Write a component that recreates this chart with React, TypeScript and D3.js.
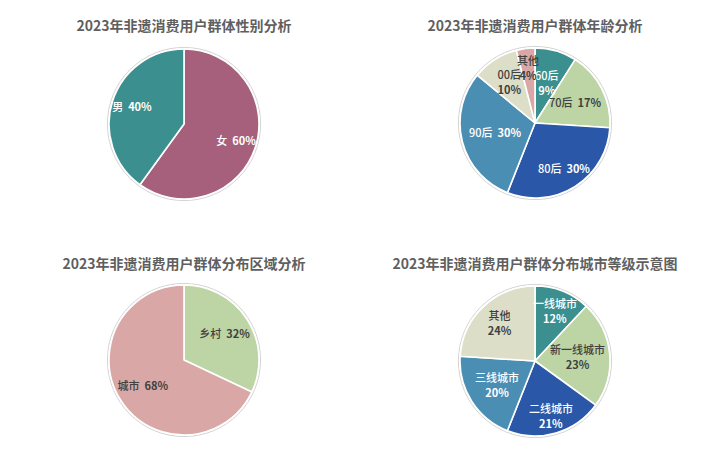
import React from "react";
import * as d3 from "d3";

const W = 720;
const H = 453;

// Chart 1: gender
const genderLabels = ["女", "男"];
const genderValues = [60, 40];
const genderColors = ["#A6607B", "#3B8F8E"];
const genderText = ["#ffffff", "#ffffff"];
const genderLabelR = [0.73, 0.73];
const genderTwoLine = [false, false];

// Chart 2: age
const ageLabels = ["60后", "70后", "80后", "90后", "00后", "其他"];
const ageValues = [9, 17, 30, 30, 10, 4];
const ageColors = ["#3B8F8E", "#BDD4A5", "#2A57A7", "#4B8EB3", "#DDDEC8", "#D8A7A6"];
const ageText = ["#ffffff", "#404040", "#ffffff", "#ffffff", "#404040", "#404040"];
const ageLabelR = [0.56, 0.6, 0.72, 0.55, 0.64, 0.74];
const ageTwoLine = [true, false, false, false, true, true];

// Chart 3: region
const regionLabels = ["乡村", "城市"];
const regionValues = [32, 68];
const regionColors = ["#BDD4A5", "#D8A7A6"];
const regionText = ["#404040", "#404040"];
const regionLabelR = [0.64, 0.65];
const regionTwoLine = [false, false];

// Chart 4: city tier
const tierLabels = ["一线城市", "新一线城市", "二线城市", "三线城市", "其他"];
const tierValues = [12, 23, 21, 20, 24];
const tierColors = ["#3B8F8E", "#BDD4A5", "#2A57A7", "#4B8EB3", "#DDDEC8"];
const tierText = ["#ffffff", "#404040", "#ffffff", "#ffffff", "#404040"];
const tierLabelR = [0.72, 0.57, 0.76, 0.6, 0.69];
const tierTwoLine = [true, true, true, true, true];

const titles = [
  "2023年非遗消费用户群体性别分析",
  "2023年非遗消费用户群体年龄分析",
  "2023年非遗消费用户群体分布区域分析",
  "2023年非遗消费用户群体分布城市等级示意图",
];

const FONT = "'Noto Sans CJK SC', 'Noto Sans', sans-serif";

type PieProps = {
  cx: number;
  cy: number;
  r: number;
  title: string;
  titleY: number;
  labels: string[];
  values: number[];
  colors: string[];
  textColors: string[];
  labelR: number[];
  twoLine: boolean[];
};

function Pie({ cx, cy, r, title, titleY, labels, values, colors, textColors, labelR, twoLine }: PieProps) {
  const total = d3.sum(values);
  const pie = d3.pie<number>().sort(null).value((d) => d);
  const arcs = pie(values);
  const arc = d3.arc<d3.PieArcDatum<number>>().innerRadius(0).outerRadius(r);
  return (
    <g>
      <text
        x={cx}
        y={titleY}
        textAnchor="middle"
        fontFamily={FONT}
        fontSize={14}
        fontWeight="bold"
        fill="#5f5f5f"
      >
        {title}
      </text>
      <circle cx={cx} cy={cy} r={r + 1.6} fill="none" stroke="#d4d4d4" strokeWidth={1} />
      <g transform={`translate(${cx},${cy})`}>
        {arcs.map((a, i) => (
          <path key={i} d={arc(a) || ""} fill={colors[i]} stroke="#ffffff" strokeWidth={1.6} strokeLinejoin="round" />
        ))}
        {arcs.map((a, i) => {
          const mid = (a.startAngle + a.endAngle) / 2;
          const lr = r * labelR[i];
          const x = Math.sin(mid) * lr;
          const y = -Math.cos(mid) * lr;
          const pct = `${Math.round((values[i] / total) * 100)}%`;
          const common = {
            textAnchor: "middle" as const,
            fontFamily: FONT,
            fontSize: 11,
            fontWeight: 500,
            fill: textColors[i],
          };
          if (twoLine[i]) {
            return (
              <text key={`l${i}`} x={x} y={y} {...common}>
                <tspan x={x} dy={-3}>{labels[i]}</tspan>
                <tspan x={x} dy={15} fontWeight="bold">{pct}</tspan>
              </text>
            );
          }
          return (
            <text key={`l${i}`} x={x} y={y + 4} {...common} style={{ whiteSpace: "pre" }}>
              <tspan>{`${labels[i]}  `}</tspan>
              <tspan fontWeight="bold">{pct}</tspan>
            </text>
          );
        })}
      </g>
    </g>
  );
}

export default function App() {
  return (
    <svg width={W} height={H} style={{ position: "absolute", left: 0, top: 0, background: "#ffffff" }}>
      <rect x={0} y={0} width={W} height={H} fill="#ffffff" />
      <Pie cx={184} cy={124} r={75} title={titles[0]} titleY={31} labels={genderLabels} values={genderValues}
        colors={genderColors} textColors={genderText} labelR={genderLabelR} twoLine={genderTwoLine} />
      <Pie cx={535} cy={123} r={75} title={titles[1]} titleY={31} labels={ageLabels} values={ageValues}
        colors={ageColors} textColors={ageText} labelR={ageLabelR} twoLine={ageTwoLine} />
      <Pie cx={184} cy={360} r={75} title={titles[2]} titleY={269} labels={regionLabels} values={regionValues}
        colors={regionColors} textColors={regionText} labelR={regionLabelR} twoLine={regionTwoLine} />
      <Pie cx={535} cy={361} r={75} title={titles[3]} titleY={269} labels={tierLabels} values={tierValues}
        colors={tierColors} textColors={tierText} labelR={tierLabelR} twoLine={tierTwoLine} />
    </svg>
  );
}
